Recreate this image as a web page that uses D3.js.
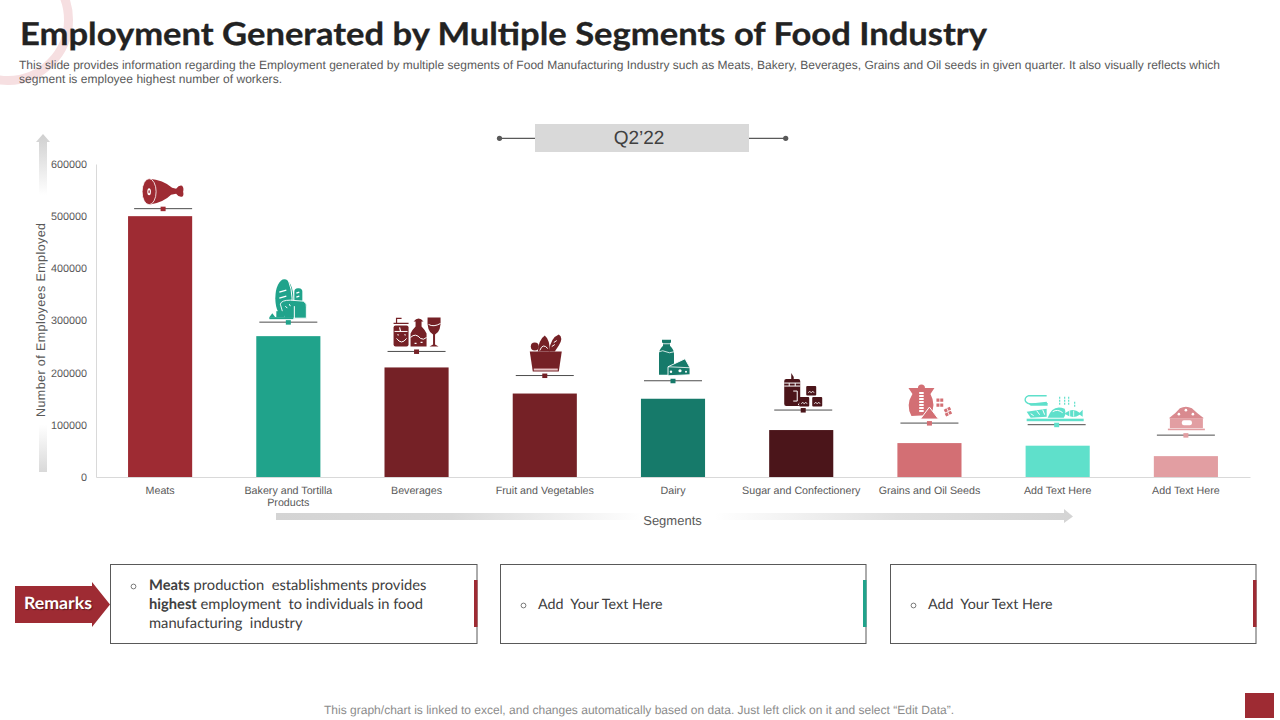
<!DOCTYPE html>
<html lang="en">
<head>
    <meta charset="UTF-8">
    <title>Employment Generated by Multiple Segments of Food Industry</title>
    <style>
        html, body { margin: 0; padding: 0; background: #fff; }
        svg { display: block; }
        text { font-family: "Liberation Sans", Arial, sans-serif; text-rendering: geometricPrecision; }
        .remark text { font-family: Lato, sans-serif; white-space: pre; }
    </style>
</head>
<body>
    <svg class="chart-svg" width="1280" height="720"></svg>
    <script src="https://d3js.org/d3.v7.min.js"></script>
    <script>
        // Data
        var segments = ["Meats", "Bakery and Tortilla Products", "Beverages", "Fruit and Vegetables", "Dairy",
            "Sugar and Confectionery", "Grains and Oil Seeds", "Add Text Here", "Add Text Here"];
        var employees = [500000, 270000, 210000, 160000, 150000, 90000, 65000, 60000, 40000];
        var yTicks = [0, 100000, 200000, 300000, 400000, 500000, 600000];
        var barColors = ["#9e2b33", "#20a38b", "#752126", "#752126", "#167a6a", "#4b151a", "#d36f74", "#5fe0cb", "#e29ea2"];
        var iconGaps = [7.5, 14, 16, 18, 18, 20, 20, 21, 21];
        var iconShifts = [3, 0, 0, 0, 0, 2, 0, -1, 0];
        var iconKinds = ["ham", "bread", "drinks", "basket", "dairy", "sugar", "grain", "fish", "bowl"];

        var svg = d3.select(".chart-svg");

        var defs = svg.append("defs");
        function fade(id, x2, y2, stops) {
            var g = defs.append("linearGradient").attr("id", id)
                .attr("x1", 0).attr("y1", 0).attr("x2", x2).attr("y2", y2);
            stops.forEach(function (s) {
                g.append("stop").attr("offset", s[0]).attr("stop-color", s[1]);
            });
        }
        fade("upFade", 0, 1, [[0, "#cfcfcf"], [0.18, "#ffffff"], [0.86, "#ffffff"], [1, "#d9d9d9"]]);
        fade("sideFade", 1, 0, [[0, "#d4d4d4"], [0.22, "#d9d9d9"], [0.46, "#ffffff"], [0.55, "#ffffff"], [0.78, "#e0e0e0"], [1, "#d4d4d4"]]);

        // Corner ring behind the title
        svg.append("circle").attr("cx", 8).attr("cy", 20).attr("r", 60.5)
            .attr("fill", "none").attr("stroke", "#f6dfe1").attr("stroke-width", 9);

        svg.append("text").attr("x", 20).attr("y", 44.5)
            .attr("font-size", 31.5).attr("font-weight", 700).attr("fill", "#222")
            .attr("stroke", "#222").attr("stroke-width", 0.3)
            .attr("textLength", 967).attr("lengthAdjust", "spacingAndGlyphs")
            .style("font-family", "Lato, sans-serif")
            .text("Employment Generated by Multiple Segments of Food Industry");

        var subtitle = ["This slide provides information regarding the Employment generated by multiple segments of Food Manufacturing Industry such as Meats, Bakery, Beverages, Grains and Oil seeds in given quarter. It also visually reflects which",
            "segment is employee highest number of workers."];
        var subtitleLength = [1201, 263];
        subtitle.forEach(function (line, i) {
            svg.append("text").attr("x", 19).attr("y", 69 + i * 14)
                .attr("font-size", 12).attr("fill", "#595959")
                .attr("textLength", subtitleLength[i]).attr("lengthAdjust", "spacing")
                .text(line);
        });

        // Quarter label
        var q = svg.append("g");
        q.append("line").attr("x1", 500).attr("x2", 786).attr("y1", 138.3).attr("y2", 138.3).attr("stroke", "#595959").attr("stroke-width", 1.2);
        [499.5, 785.7].forEach(function (x) {
            q.append("circle").attr("cx", x).attr("cy", 138.3).attr("r", 2.6).attr("fill", "#595959");
        });
        q.append("rect").attr("x", 535).attr("y", 124).attr("width", 214).attr("height", 28).attr("fill", "#d9d9d9");
        q.append("text").attr("x", 639).attr("y", 144).attr("text-anchor", "middle")
            .attr("font-size", 19).attr("fill", "#404040").text("Q2’22");

        // Scales and axes
        var xScale = d3.scaleBand().domain(d3.range(segments.length)).range([96, 1250]).paddingInner(0.5).paddingOuter(0.25);
        var yScale = d3.scaleLinear().domain([0, 600000]).range([477, 164]);

        var yAxis = svg.append("g").attr("transform", "translate(96,0)")
            .call(d3.axisLeft(yScale).tickValues(yTicks).tickSize(0).tickPadding(9).tickFormat(d3.format("d")));
        yAxis.selectAll("text").attr("font-size", 10.8).attr("fill", "#595959").style("font-family", "Liberation Sans");
        yAxis.select(".domain").attr("stroke", "#d9d9d9");

        var xAxis = svg.append("g").attr("transform", "translate(0,477)")
            .call(d3.axisBottom(xScale).tickSize(0).tickPadding(9).tickFormat(function (i) { return segments[i]; }));
        xAxis.select(".domain").attr("stroke", "#d9d9d9");
        xAxis.selectAll("text")
            .attr("font-size", 10.7).attr("fill", "#595959").style("font-family", "Liberation Sans")
            .each(function (i) {
                // the long label wraps in two lines
                if (segments[i].indexOf("Tortilla") < 0) return;
                var t = d3.select(this).text(null);
                t.append("tspan").attr("x", 0).text("Bakery and Tortilla");
                t.append("tspan").attr("x", 0).attr("dy", 12).text("Products");
            });

        // Bars
        svg.selectAll("rect.bar")
            .data(employees)
            .enter()
            .append("rect")
            .attr("class", "bar")
            .attr("x", function (d, i) { return xScale(i); })
            .attr("y", function (d) { return yScale(d); })
            .attr("width", xScale.bandwidth())
            .attr("height", function (d) { return yScale(0) - yScale(d); })
            .attr("fill", function (d, i) { return barColors[i]; });

        // Small picture icons, origin is the middle of the shelf line
        function shape(g, tag, attrs) {
            var s = g.append(tag);
            Object.keys(attrs).forEach(function (k) { s.attr(k, attrs[k]); });
            return s;
        }
        function white(g, d, w) {
            shape(g, "path", { d: d, fill: "none", stroke: "#fff", "stroke-width": w || 1 });
        }
        var icons = {
            ham: function (g, c) {
                shape(g, "path", { d: "M-14,-30 Q0,-29 9,-21 L13,-20 Q16,-24 19,-23 Q21,-21 20,-17 Q21,-13 19,-12 Q16,-11 13,-15 L8,-14 Q0,-6 -14,-4 Z", fill: c });
                shape(g, "ellipse", { cx: -14, cy: -17, rx: 7, ry: 13, fill: c, stroke: "#fff", "stroke-width": 0.8 });
                shape(g, "ellipse", { cx: -14, cy: -17, rx: 1.8, ry: 3.5, fill: "#fff" });
                shape(g, "ellipse", { cx: -14, cy: -17, rx: 0.7, ry: 1.6, fill: c });
            },
            bread: function (g, c) {
                shape(g, "ellipse", { cx: -4, cy: -24, rx: 9, ry: 19, fill: c });
                white(g, "M0,-42 Q7,-24 1,-6");
                shape(g, "rect", { x: 6, y: -34, width: 8, height: 16, rx: 3.5, fill: c });
                white(g, "M-9,-30 L-2,-32 M-9,-24 L-2,-26 M8,-29 L11,-30 M8,-25 L11,-26", 1.4);
                shape(g, "path", { d: "M-8,-18 Q-7,-22 2,-22 L15,-21 Q19,-19 18,-15 L18,-4 L-4,-4 Z", fill: c, stroke: "#fff", "stroke-width": 0.9 });
                white(g, "M6,-16 L6,-4 M-3,-16 L-1,-14 M1,-18 L2,-16");
                shape(g, "rect", { x: -19, y: -5, width: 24, height: 2, fill: c });
                shape(g, "rect", { x: -12, y: -11, width: 8, height: 6, fill: c });
                shape(g, "path", { d: "M-19,-5 L-16,-9 L-13,-5 Z", fill: c });
            },
            drinks: function (g, c) {
                shape(g, "rect", { x: -23, y: -26, width: 15, height: 21, rx: 2, fill: c });
                shape(g, "path", { d: "M-23,-28 L-8,-28 M-20,-28 L-20,-33 L-15,-33", stroke: c, "stroke-width": 1.2, fill: "none" });
                shape(g, "path", { d: "M-6,-5 L-6,-18 Q-5,-21 -1,-25 L-1,-30 L-3,-30 Q2,-36 7,-30 L5,-30 L5,-25 Q9,-21 10,-18 L10,-5 Z", fill: c });
                shape(g, "path", { d: "M11,-34 L24,-34 Q25,-20 18.5,-17 L18.5,-7 L22,-5 L13,-5 L16.5,-7 L16.5,-17 Q10,-20 11,-34 Z", fill: c });
                white(g, "M-22,-20 L-9,-20 M-20,-13 Q-15,-6 -10,-13 M-6,-14 Q-1,-19 4,-13 Q7,-11 10,-14 M12,-27 Q17,-24 24,-28");
                white(g, "M-17,-24 L-16,-20 M-19,-17 L-18,-16 M-12,-17 L-11,-16 M-2,-8 L0,-8 M4,-9 L6,-9", 1.2);
            },
            basket: function (g, c) {
                shape(g, "path", { d: "M-7,-24 Q-6,-36 0,-40 Q5,-36 5,-24 Z", fill: c });
                shape(g, "path", { d: "M4,-24 Q6,-38 14,-41 Q19,-38 14,-30 L10,-24 Z", fill: c });
                shape(g, "circle", { cx: -10, cy: -29, r: 4, fill: c });
                white(g, "M-5,-25 Q-2,-33 3,-27 M9,-33 L12,-35 M7,-29 L10,-31");
                shape(g, "path", { d: "M-15,-24 L17,-24 L14,-4 L-12,-4 Z", fill: c });
                shape(g, "rect", { x: -11, y: -7, width: 24, height: 2, fill: "#e8c4c6" });
            },
            dairy: function (g, c) {
                shape(g, "path", { d: "M-14,-6 L-14,-27 Q-14,-31 -10,-35 L-10,-38 L-11,-38 L-11,-41 L-2,-41 L-2,-38 L-3,-38 L-3,-35 Q1,-31 1,-27 L1,-6 Z", fill: c });
                white(g, "M-14,-29 Q-10,-31 -7,-29 Q-4,-27 1,-29 M-11,-37 L-2,-37", 0.8);
                shape(g, "path", { d: "M-5,-14 L12,-22 L17,-13 L17,-6 L-5,-5 Z", fill: c, stroke: "#fff", "stroke-width": 0.9 });
                white(g, "M-5,-14 L17,-13", 0.8);
                shape(g, "circle", { cx: 7, cy: -10, r: 1.6, fill: "#fff" });
                shape(g, "circle", { cx: -2, cy: -9, r: 1.2, fill: "#fff" });
                shape(g, "circle", { cx: 13, cy: -9, r: 1, fill: "#fff" });
            },
            sugar: function (g, c) {
                shape(g, "rect", { x: -19, y: -31, width: 16, height: 27, rx: 2, fill: c });
                shape(g, "path", { d: "M-12,-31 L-12,-37 L-9.5,-33 L-9.5,-31 Z", fill: c });
                white(g, "M-19,-27 L-3,-27 M-19,-24 L-3,-24 M-14,-27 L-14,-24 M-8,-27 L-8,-24 M-10,-19 L-6,-19 L-6,-9 L-10,-9 M-5,-5 L-3,-8");
                [[3, -24], [-4, -13], [9, -13]].forEach(function (p) {
                    shape(g, "rect", { x: p[0], y: p[1], width: 10, height: 9.5, rx: 1, fill: c });
                    white(g, "M" + (p[0] + 2) + "," + (p[1] + 7) + " l1.5,-2 l1.5,2 l1.5,-2 l1.5,2", 0.7);
                });
            },
            grain: function (g, c) {
                shape(g, "circle", { cx: -8, cy: -35, r: 3.5, fill: c });
                shape(g, "path", { d: "M-21,-35 L5,-35 L1,-29 Q7,-18 1,-8 L-18,-7 Q-24,-18 -17,-29 Z", fill: c });
                shape(g, "path", { d: "M-8,-31 L-8,-11", stroke: "#fff", "stroke-width": 4.5, "stroke-dasharray": "2 1", fill: "none" });
                shape(g, "path", { d: "M-9,-4 L0,-16 L9,-4 Z", fill: c, stroke: "#fff", "stroke-width": 1 });
                shape(g, "path", { d: "M7,-23 L14,-23 M7,-18 L14,-18 M15,-12 L21,-15 M16,-8 L22,-11", stroke: c, "stroke-width": 3.2, "stroke-dasharray": "3 0.8", fill: "none" });
            },
            fish: function (g, c) {
                shape(g, "path", { d: "M-10,-29 L-28,-29 Q-33,-27 -31,-23 Q-29,-20 -22,-21 L-9,-21", stroke: c, "stroke-width": 1.4, fill: "none" });
                shape(g, "path", { d: "M-28,-21 L-10,-23 L-9,-19 L-26,-19 Z", fill: c });
                shape(g, "path", { d: "M-9,-7 Q-4,-21 8,-16 Q10,-11 7,-7 Z", fill: c });
                white(g, "M-4,-13 Q1,-16 6,-12");
                shape(g, "path", { d: "M8,-11 Q16,-18 23,-12 L26,-15 L26,-8 L23,-10 Q16,-5 8,-11 Z", fill: c });
                white(g, "M13,-14 L13,-8 M17,-14 L17,-8", 0.8);
                shape(g, "path", { d: "M-30,-13 L-10,-16 L-10,-8 L-26,-7 Z", fill: c });
                white(g, "M-26,-11 L-23,-9 M-20,-14 L-17,-10 M-14,-15 L-12,-10");
                shape(g, "rect", { x: -30, y: -6, width: 57, height: 2.5, fill: c });
                shape(g, "path", { d: "M3,-28 L3,-20 M8,-28 L8,-20 M12,-28 L12,-20 M18,-23 L18,-18", stroke: c, "stroke-width": 1.2, "stroke-dasharray": "2 1", fill: "none" });
            },
            bowl: function (g, c) {
                shape(g, "path", { d: "M-17,-17 Q-10,-22 -6,-27 Q0,-30 6,-27 Q11,-22 18,-17 Z", fill: "#d98a8f" });
                shape(g, "rect", { x: -16, y: -17, width: 33, height: 10, fill: c });
                shape(g, "rect", { x: -18, y: -6.5, width: 37, height: 1.6, fill: c });
                shape(g, "rect", { x: -4, y: -15, width: 10, height: 5, rx: 2, fill: "#fff" });
                [[-7, -21], [0, -25], [7, -21]].forEach(function (p) {
                    shape(g, "circle", { cx: p[0], cy: p[1], r: 1.3, fill: "#fff" });
                });
            }
        };

        var iconGroups = svg.selectAll("g.icon")
            .data(employees)
            .enter()
            .append("g")
            .attr("class", "icon")
            .attr("transform", function (d, i) {
                return "translate(" + (xScale(i) + xScale.bandwidth() / 2 + iconShifts[i]) + "," + (yScale(d) - iconGaps[i]) + ")";
            });
        iconGroups.append("line").attr("x1", -29).attr("x2", 29).attr("stroke", "#4d4d4d").attr("stroke-width", 1);
        iconGroups.append("rect").attr("x", -2.5).attr("y", -2).attr("width", 5).attr("height", 4.5)
            .attr("fill", function (d, i) { return barColors[i]; });
        iconGroups.each(function (d, i) {
            icons[iconKinds[i]](d3.select(this), barColors[i]);
        });

        // Axis titles with their faded arrows
        svg.append("path").attr("d", "M39,472 L39,142 L36,142 L43,134 L50,142 L47,142 L47,472 Z").attr("fill", "url(#upFade)");
        svg.append("text").attr("transform", "translate(45,320) rotate(-90)").attr("text-anchor", "middle")
            .attr("font-size", 12.5).attr("fill", "#595959").attr("textLength", 194).text("Number of Employees Employed");
        svg.append("path").attr("d", "M276,513 L1064,513 L1064,509 L1073,516.5 L1064,523 L1064,520 L276,520 Z").attr("fill", "url(#sideFade)");
        svg.append("text").attr("x", 672.5).attr("y", 525).attr("text-anchor", "middle")
            .attr("font-size", 13).attr("fill", "#595959").text("Segments");

        // Remarks
        svg.append("path").attr("d", "M15,586 L92,586 L92,582 L110,604.5 L92,627 L92,623 L15,623 Z").attr("fill", "#9e2b33");
        svg.append("text").attr("x", 24).attr("y", 609).attr("font-size", 17).attr("font-weight", 700)
            .attr("fill", "#fff").attr("textLength", 68).attr("lengthAdjust", "spacingAndGlyphs")
            .style("font-family", "Lato, sans-serif").style("text-shadow", "1px 1px 1px rgba(0,0,0,0.45)").text("Remarks");

        var boxX = [110, 500, 890];
        var boxWidth = [366.5, 365.5, 365.5];
        var boxAccent = ["#9e2b33", "#20a38b", "#9e2b33"];
        var boxLines = [
            [[["Meats", 1], [" production  establishments provides", 0]],
             [["highest", 1], [" employment  to individuals in food", 0]],
             [["manufacturing  industry", 0]]],
            [[["Add  Your Text Here", 0]]],
            [[["Add  Your Text Here", 0]]]
        ];
        boxX.forEach(function (x, i) {
            var g = svg.append("g").attr("class", "remark");
            g.append("rect").attr("x", x + 0.5).attr("y", 564.5).attr("width", boxWidth[i]).attr("height", 79)
                .attr("fill", "#fff").attr("stroke", "#595959");
            g.append("rect").attr("x", x + boxWidth[i] - 2.5).attr("y", 580).attr("width", 3.5).attr("height", 47).attr("fill", boxAccent[i]);
            var lines = boxLines[i];
            var top = 604 - (lines.length - 1) * 9.5 + 5;
            g.append("circle").attr("cx", x + 23.5).attr("cy", top - 3.5).attr("r", 2.4).attr("fill", "none").attr("stroke", "#595959").attr("stroke-width", 0.8);
            lines.forEach(function (parts, k) {
                var t = g.append("text").attr("x", x + (lines.length > 1 ? 39 : 38)).attr("y", top + k * 19)
                    .attr("font-size", lines.length > 1 ? 14.7 : 14.3).attr("fill", "#404040");
                parts.forEach(function (p) {
                    t.append("tspan").attr("font-weight", p[1] ? 700 : 400).text(p[0]);
                });
            });
        });

        // Footer
        svg.append("text").attr("x", 639).attr("y", 714).attr("text-anchor", "middle")
            .attr("font-size", 12).attr("fill", "#8c8c8c")
            .attr("textLength", 630).attr("lengthAdjust", "spacing")
            .text("This graph/chart is linked to excel, and changes automatically based on data. Just left click on it and select “Edit Data”.");
        svg.append("rect").attr("x", 1245).attr("y", 693).attr("width", 29).attr("height", 25).attr("fill", "#9e2b33");
    </script>
</body>
</html>
